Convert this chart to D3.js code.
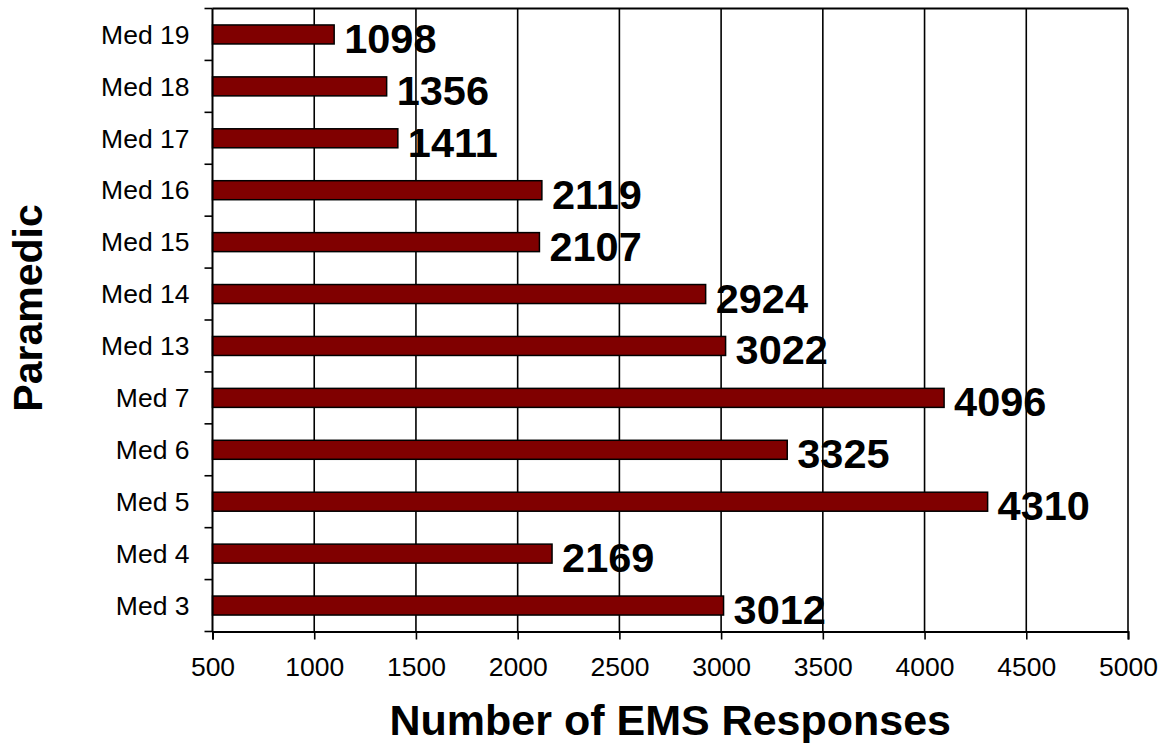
<!DOCTYPE html>
<html>
<head>
<meta charset="utf-8">
<script src="https://cdn.jsdelivr.net/npm/d3@7.9.0/dist/d3.min.js"></script>
<style>
  body { margin: 0; background: #fff; }
  svg { display: block; font-family: "Liberation Sans", Arial, sans-serif; }
</style>
</head>
<body>
<svg id="chart" width="1170" height="743"></svg>
<script>
// categories top to bottom
const medics = ["Med 19", "Med 18", "Med 17", "Med 16", "Med 15", "Med 14",
                "Med 13", "Med 7", "Med 6", "Med 5", "Med 4", "Med 3"];
const responses = [1098, 1356, 1411, 2119, 2107, 2924, 3022, 4096, 3325, 4310, 2169, 3012];
const xTicks = [500, 1000, 1500, 2000, 2500, 3000, 3500, 4000, 4500, 5000];

const data = medics.map((m, i) => ({ medic: m, value: responses[i] }));

const plot = { left: 212.5, right: 1128, top: 8.5, bottom: 631.5 };

const svg = d3.select("#chart");

const x = d3.scaleLinear().domain([500, 5000]).range([plot.left, plot.right]);
const y = d3.scaleBand().domain(medics).range([plot.top, plot.bottom]).padding(0);

const barH = y.bandwidth() * 0.366;

// data labels (drawn first, gridlines sit on top of them)
svg.append("g")
  .selectAll("text")
  .data(data)
  .join("text")
  .attr("x", d => x(d.value) + 10)
  .attr("y", d => y(d.medic) + y.bandwidth() / 2 + 18.5)
  .attr("font-size", 41.5)
  .attr("font-weight", "bold")
  .attr("fill", "#000")
  .text(d => d.value);

// vertical gridlines
svg.append("g")
  .selectAll("line")
  .data(xTicks.slice(1))
  .join("line")
  .attr("x1", d => x(d)).attr("x2", d => x(d))
  .attr("y1", plot.top).attr("y2", plot.bottom)
  .attr("stroke", "#000")
  .attr("stroke-width", 1.6);

// top border
svg.append("line")
  .attr("x1", plot.left).attr("x2", plot.right)
  .attr("y1", plot.top).attr("y2", plot.top)
  .attr("stroke", "#000").attr("stroke-width", 2);

// bars
svg.append("g")
  .selectAll("rect")
  .data(data)
  .join("rect")
  .attr("x", x(500))
  .attr("y", d => y(d.medic) + (y.bandwidth() - barH) / 2)
  .attr("width", d => x(d.value) - x(500))
  .attr("height", barH)
  .attr("fill", "#800000")
  .attr("stroke", "#000")
  .attr("stroke-width", 1.5);

// x axis
const xAxis = svg.append("g")
  .attr("transform", `translate(0,${plot.bottom})`)
  .call(d3.axisBottom(x).tickValues(xTicks).tickSize(8).tickPadding(18).tickFormat(d3.format("d")));
xAxis.select(".domain").attr("stroke-width", 2);
xAxis.selectAll(".tick line").attr("stroke-width", 1.6);
xAxis.selectAll(".tick text")
  .attr("font-size", 26.5)
  .attr("font-family", "Liberation Sans, Arial, sans-serif")
  .attr("fill", "#000");

// y axis: ticks at category boundaries
const yAxis = svg.append("g")
  .attr("transform", `translate(${plot.left},0)`);
yAxis.append("line")
  .attr("x1", 0).attr("x2", 0)
  .attr("y1", plot.top).attr("y2", plot.bottom)
  .attr("stroke", "#000").attr("stroke-width", 2);
yAxis.selectAll(".ytick")
  .data(medics)
  .join("line")
  .attr("class", "ytick")
  .attr("x1", -8).attr("x2", 0)
  .attr("y1", d => y(d)).attr("y2", d => y(d))
  .attr("stroke", "#000").attr("stroke-width", 1.6);
yAxis.append("line")
  .attr("x1", -8).attr("x2", 0)
  .attr("y1", plot.bottom).attr("y2", plot.bottom)
  .attr("stroke", "#000").attr("stroke-width", 1.6);
yAxis.selectAll(".ylabel")
  .data(medics)
  .join("text")
  .attr("class", "ylabel")
  .attr("x", -23)
  .attr("y", d => y(d) + y.bandwidth() / 2)
  .attr("dy", "0.35em")
  .attr("text-anchor", "end")
  .attr("font-size", 26.5)
  .attr("fill", "#000")
  .text(d => d);

// axis titles
svg.append("text")
  .attr("x", (plot.left + plot.right) / 2)
  .attr("y", 735)
  .attr("text-anchor", "middle")
  .attr("font-size", 43)
  .attr("font-weight", "bold")
  .text("Number of EMS Responses");

svg.append("text")
  .attr("transform", "translate(42,308) rotate(-90)")
  .attr("text-anchor", "middle")
  .attr("font-size", 41)
  .attr("font-weight", "bold")
  .text("Paramedic");
</script>
</body>
</html>
